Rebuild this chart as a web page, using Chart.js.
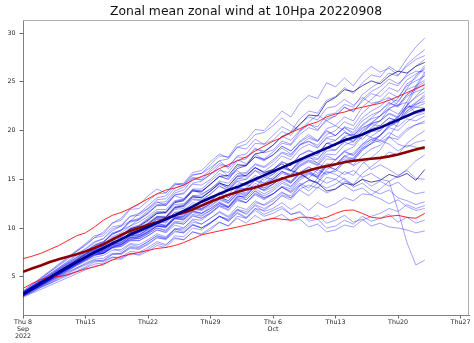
<!DOCTYPE html>
<html>
<head>
<meta charset="utf-8">
<script src="https://cdn.jsdelivr.net/npm/chart.js@4.4.1/dist/chart.umd.min.js"></script>
<style>
    html, body { margin: 0; padding: 0; background: #fff; }
    #wrap { width: 474px; height: 343px; }
</style>
</head>
<body>
<div id="wrap"><canvas id="windChart" width="474" height="343"></canvas></div>
<script>
const chartTitle = 'Zonal mean zonal wind at 10Hpa 20220908';

// forecast day offsets from 2022-09-08
const days = [0,1,2,3,4,5,6,7,8,9, 10,11,12,13,14,15,16,17,18,19, 20,21,22,23,24,25,26,27,28,29,
    30,31,32,33,34,35,36,37,38,39, 40,41,42,43,44,45];

const xTickDays = [0, 7, 14, 21, 28, 35, 42, 49];
const xTickLabels = [['Thu 8', 'Sep', '2022'], 'Thu15', 'Thu22', 'Thu29', ['Thu 6', 'Oct'], 'Thu13', 'Thu20', 'Thu27'];
const yTicks = [5, 10, 15, 20, 25, 30];

// climatology: mean and spread envelope
const climMean = [5.5,5.85,6.15,6.5,6.8,7.05,7.3,7.6,7.95,8.35, 8.8,9.3,9.7,10.0,10.3,10.6,10.95,11.3,11.6,11.9,
    12.3,12.7,13.05,13.4,13.7,13.95,14.15,14.45,14.75,15.05, 15.35,15.6,15.9,16.15,16.35,16.55,16.75,16.9,17.0,17.1,
    17.2,17.35,17.55,17.8,18.05,18.3];
const climUpper = [6.85,7.1,7.4,7.8,8.2,8.7,9.2,9.5,10.1,10.8, 11.3,11.6,12.0,12.5,13.0,13.5,13.9,14.1,14.4,14.9,
    15.3,15.6,16.1,16.5,16.9,17.3,17.9,18.4,18.9,19.3, 19.8,20.2,20.6,20.9,21.4,21.7,21.9,22.2,22.4,22.6,
    22.8,23.1,23.5,23.9,24.3,24.7];
const climLower = [3.8,4.3,4.7,5.0,5.0,5.2,5.5,5.8,6.0,6.3, 6.7,7.1,7.3,7.5,7.7,7.9,8.0,8.2,8.5,8.9,
    9.3,9.5,9.7,9.9,10.1,10.3,10.5,10.8,11.0,10.9, 10.8,11.1,11.1,10.9,11.1,11.5,11.8,11.85,11.5,11.1,
    11.0,11.2,11.3,11.1,11.0,11.5];

// ensemble mean
const ensMean = [3.2,3.8,4.4,4.9,5.5,6.0,6.5,7.0,7.5,7.95, 8.4,8.85,9.3,9.7,10.1,10.5,10.9,11.3,11.75,12.2,
    12.7,13.1,13.5,13.9,14.2,14.6,15.0,15.4,15.8,16.2, 16.6,17.0,17.4,17.8,18.2,18.6,19.0,19.3,19.6,20.0,
    20.3,20.7,21.1,21.5,21.9,22.2];

// ensemble members (rows: days 0-7, 8-14, 15-21, 22-28, 29-35, 36-40, 41-45)
const m01 = [3.3,3.9,4.5,5.1,5.8,6.4,7.0,7.6, 8.2,8.6,9.3,9.8,10.2,10.9,11.5, 12.3,12.4,13.4,13.6,14.6,14.8,15.5,
    16.4,16.3,17.4,17.6,18.7,18.6,19.5, 20.4,19.9,21.2,22.0,21.8,23.1,23.5, 24.4,23.8,24.9,25.7,25.5, 26.6,26.0,27.4,28.6,29.5];
const m02 = [3.4,4.0,4.7,5.3,5.9,6.5,7.2,7.8, 8.5,8.9,9.7,10.2,10.7,11.5,12.0, 12.9,13.0,14.1,14.4,15.4,15.6,16.5,
    17.4,17.3,18.6,19.0,20.1,20.0,21.0, 22.0,21.4,22.8,23.6,23.3,24.9,24.5, 25.4,24.6,25.8,26.6,26.0, 26.4,25.7,26.6,27.3,27.7];
const m03 = [3.2,3.8,4.4,5.0,5.5,6.1,6.7,7.3, 7.9,8.2,8.9,9.2,9.9,10.2,10.8, 11.5,11.6,12.6,12.8,13.8,13.7,14.5,
    15.3,15.4,16.5,16.4,17.6,17.8,18.5, 19.4,19.8,20.6,21.6,21.5,22.9,23.4, 24.2,24.0,24.6,25.1,24.8, 25.6,26.1,25.9,26.6,27.0];
const m04 = [3.1,3.7,4.3,4.9,5.6,6.2,6.8,7.4, 8.1,8.5,9.4,9.8,10.7,11.0,11.8, 12.6,12.7,13.8,14.2,15.1,15.2,16.0,
    16.9,17.1,18.3,18.6,19.6,19.8,20.5, 21.3,20.6,20.0,20.9,21.6,21.0,21.5, 22.4,22.0,23.0,23.8,23.5, 24.4,24.0,25.2,25.8,26.3];
const m05 = [3.3,3.9,4.4,5.0,5.5,6.1,6.6,7.2, 7.8,8.1,8.8,9.1,9.8,10.0,10.5, 11.2,11.2,12.2,12.4,13.3,13.4,14.0,
    14.8,14.6,15.6,15.7,16.6,16.3,17.0, 17.8,17.5,18.6,18.9,18.5,19.6,20.0, 20.9,20.5,21.8,22.6,23.0, 23.9,23.4,24.6,25.1,25.6];
const m06 = [3.0,3.6,4.1,4.7,5.2,5.8,6.3,6.9, 7.5,7.8,8.5,8.8,9.5,9.7,10.2, 10.9,10.9,11.9,12.0,12.9,12.8,13.5,
    14.3,13.9,15.0,15.4,16.2,15.8,16.5, 17.4,17.0,18.1,18.6,18.2,19.3,19.5, 20.3,19.8,21.0,21.6,22.0, 22.9,22.4,23.5,24.0,24.3];
const m07 = [3.2,3.7,4.2,4.7,5.3,5.8,6.3,6.8, 7.3,7.5,8.1,8.3,8.9,9.1,9.6, 10.2,10.1,11.0,11.2,12.0,11.9,12.5,
    13.2,12.8,13.9,14.1,14.9,14.4,15.0, 15.8,15.5,16.7,17.2,17.0,18.1,18.5, 19.3,18.9,20.0,20.7,21.0, 21.8,21.4,22.3,22.7,23.0];
const m08 = [3.3,3.8,4.4,4.9,5.5,6.0,6.6,7.1, 7.8,8.0,8.8,9.1,9.9,10.1,10.7, 11.5,11.6,12.7,12.9,14.0,14.0,14.8,
    15.6,15.2,16.3,16.5,17.3,16.9,17.5, 18.4,17.9,18.9,19.6,19.0,20.0,19.5, 20.3,19.6,19.1,19.9,20.0, 20.9,20.4,21.2,21.0,21.5];
const m09 = [3.1,3.6,4.1,4.6,5.2,5.7,6.2,6.7, 7.2,7.4,8.0,8.3,8.8,9.0,9.5, 10.2,10.2,11.1,11.3,12.2,12.0,12.8,
    13.6,13.1,14.0,14.5,14.1,15.2,15.0, 15.8,15.4,16.4,16.9,16.5,17.6,17.5, 18.5,18.9,19.6,20.7,21.5, 22.6,23.3,24.8,25.4,26.5];
const m10 = [3.2,3.7,4.3,4.8,5.4,5.9,6.5,7.0, 7.6,7.8,8.5,8.7,9.4,9.5,10.0, 10.7,10.6,11.6,11.8,12.6,12.4,13.0,
    13.7,13.4,14.5,14.6,15.4,14.9,15.5, 16.3,15.8,16.8,17.4,16.6,16.2,17.0, 17.9,17.4,18.4,19.1,18.8, 19.4,18.6,18.3,18.8,19.0];
const m11 = [3.4,4.0,4.6,5.2,5.7,6.3,6.9,7.5, 8.2,8.5,9.4,9.7,10.6,10.8,11.5, 12.3,12.3,13.4,13.5,14.5,14.4,15.0,
    15.9,15.7,16.9,17.1,18.1,17.9,18.5, 19.4,19.0,20.0,20.7,20.1,21.0,20.5, 20.0,19.2,19.7,19.3,19.0, 18.6,17.9,18.5,18.3,18.0];
const m12 = [3.2,3.7,4.3,4.8,5.3,5.8,6.4,6.9, 7.4,7.6,8.3,8.5,9.2,9.3,9.8, 10.4,10.2,11.1,11.0,11.8,11.5,12.0,
    12.7,12.2,13.3,13.1,14.0,13.5,14.0, 14.8,14.3,15.2,15.7,15.2,16.3,16.0, 16.9,17.2,18.2,18.6,19.5, 20.5,20.9,22.0,22.6,23.3];
const m13 = [3.1,3.6,4.2,4.7,5.3,5.8,6.4,6.9, 7.5,7.8,8.5,8.8,9.5,9.8,10.4, 11.1,11.1,12.1,12.3,13.2,13.1,13.8,
    14.6,14.3,15.3,15.4,16.2,15.7,16.0, 16.6,15.9,15.6,15.0,14.6,13.8,14.0, 14.6,14.4,15.0,14.7,14.9, 15.5,15.2,15.6,14.9,16.0];
const m14 = [3.3,3.8,4.4,4.9,5.4,5.9,6.5,7.0, 7.5,7.7,8.3,8.5,9.1,9.2,9.7, 10.3,10.1,11.0,10.9,11.7,11.5,12.0,
    12.6,12.1,13.0,12.6,13.4,12.9,13.5, 14.3,14.0,15.1,15.6,15.3,16.4,16.5, 17.1,16.4,16.9,16.0,16.5, 16.0,15.4,15.9,15.1,15.0];
const m15 = [3.2,3.7,4.2,4.7,5.3,5.8,6.3,6.8, 7.3,7.4,8.0,8.1,8.7,8.7,9.2, 9.8,9.6,10.5,10.4,11.2,11.0,11.5,
    12.2,11.8,12.8,12.6,13.5,13.1,13.5, 14.2,13.6,14.4,13.8,14.6,14.1,14.5, 15.1,14.4,15.0,14.3,14.8, 14.3,14.7,13.9,13.5,13.7];
const m16 = [3.0,3.5,4.1,4.6,5.1,5.6,6.2,6.7, 7.2,7.4,8.0,8.2,8.8,8.9,9.4, 10.0,9.8,10.7,10.6,11.4,11.2,11.8,
    12.5,12.2,13.2,13.3,14.2,13.9,14.5, 15.2,14.6,15.5,15.9,15.1,15.8,15.5, 15.0,14.2,14.6,13.9,13.5, 13.9,13.1,12.8,12.4,12.7];
const m17 = [3.3,3.8,4.4,4.9,5.4,5.9,6.5,7.0, 7.5,7.4,7.9,7.6,8.3,8.1,8.6, 9.2,8.9,9.7,9.5,10.3,10.0,10.5,
    11.2,10.8,11.8,11.5,12.4,12.0,12.5, 13.3,12.9,14.0,14.4,14.1,15.2,15.0, 14.4,13.8,14.1,13.4,13.0, 12.5,12.9,12.2,11.8,12.0];
const m18 = [3.2,3.7,4.2,4.7,5.1,5.6,6.1,6.6, 7.0,7.2,7.7,7.8,8.4,8.3,8.8, 9.4,9.1,9.9,9.6,10.4,10.0,10.6,
    11.2,10.7,11.5,11.0,11.8,11.2,11.5, 12.0,11.4,11.7,10.9,11.3,10.5,10.8, 11.3,10.6,10.9,10.2,10.5, 10.1,10.0,9.8,9.5,9.7];
const m19 = [3.1,3.6,4.1,4.6,5.2,5.7,6.2,6.7, 7.2,7.4,8.1,8.3,9.0,9.1,9.6, 10.2,10.1,11.0,11.1,11.9,11.8,12.3,
    13.0,12.6,13.6,13.5,14.3,13.9,14.5, 15.2,14.8,15.7,16.3,15.6,16.4,16.0, 15.5,15.9,15.2,15.6,15.0, 14.8,11.8,8.5,6.2,6.7];
const m20 = [3.2,3.6,4.1,4.5,5.0,5.4,5.9,6.3, 6.7,6.6,7.0,6.9,7.4,7.2,7.6, 8.2,8.0,8.9,8.8,9.6,9.4,10.0,
    10.6,10.2,11.0,10.5,11.3,10.7,11.0, 11.4,10.7,10.9,10.1,10.4,9.6,9.8, 10.3,10.1,10.8,11.2,11.5, 12.0,11.7,12.4,12.0,12.3];
const m21 = [3.4,4.0,4.5,5.1,5.7,6.3,6.8,7.4, 8.0,8.4,9.1,9.5,10.2,10.6,11.2, 11.9,11.9,12.8,13.0,13.9,13.8,14.5,
    15.3,15.0,16.1,16.4,17.3,17.1,17.8, 18.7,18.5,19.6,20.3,20.0,21.2,21.5, 22.4,21.9,23.2,24.0,24.5, 25.3,24.8,25.6,26.1,26.0];
const m22 = [3.2,3.8,4.3,4.9,5.4,6.0,6.5,7.1, 7.7,8.0,8.7,9.0,9.7,9.9,10.5, 11.2,11.1,12.1,12.2,13.0,12.9,13.5,
    14.3,13.8,14.8,15.0,15.9,15.2,15.5, 16.3,15.9,16.9,17.5,17.1,18.2,18.0, 18.9,19.2,20.2,20.8,21.5, 22.3,22.6,23.7,24.2,24.8];
const m23 = [3.1,3.7,4.2,4.8,5.3,5.9,6.4,7.0, 7.6,7.8,8.5,8.7,9.4,9.5,10.0, 10.7,10.5,11.4,11.4,12.2,12.0,12.5,
    13.2,12.6,13.5,12.9,13.8,13.1,13.5, 14.2,13.8,14.9,15.5,15.2,16.4,16.5, 17.4,17.1,18.2,18.9,19.5, 20.4,20.9,22.0,22.8,23.7];
const m24 = [3.3,3.8,4.4,4.9,5.5,6.0,6.6,7.1, 7.7,7.9,8.6,8.8,9.5,9.6,10.2, 10.9,11.0,12.0,12.2,13.2,13.1,13.8,
    14.5,14.1,15.1,15.0,15.9,15.5,16.0, 16.8,16.4,17.5,18.0,17.6,18.7,18.5, 19.3,18.8,19.9,20.6,20.5, 21.3,20.9,21.8,22.4,22.3];
const m25 = [3.2,3.7,4.3,4.8,5.4,5.9,6.5,7.0, 7.6,7.7,8.4,8.6,9.3,9.3,9.9, 10.5,10.2,11.0,10.8,11.6,11.3,11.8,
    12.5,12.1,13.1,12.9,13.8,13.3,13.8, 14.6,14.2,15.3,15.8,15.4,16.6,16.5, 17.3,16.9,18.0,18.7,19.0, 19.8,19.3,20.2,20.6,20.8];
const m26 = [3.2,3.7,4.3,4.8,5.3,5.8,6.4,6.9, 7.4,7.6,8.2,8.4,9.0,9.1,9.6, 10.2,10.0,10.9,10.9,11.7,11.5,12.2,
    12.9,12.5,13.5,13.4,14.3,13.8,14.2, 15.0,14.6,15.7,16.2,15.9,17.1,17.0, 17.9,18.3,19.4,20.3,21.0, 22.2,22.9,24.3,25.6,26.7];
const m27 = [3.3,3.9,4.4,5.0,5.6,6.2,6.7,7.3, 7.9,8.2,8.9,9.2,9.9,10.2,10.9, 11.6,11.5,12.4,12.5,13.3,13.2,13.8,
    14.6,14.3,15.4,15.6,16.5,16.2,16.8, 17.7,17.3,18.5,19.2,18.9,20.2,20.5, 21.4,21.0,22.4,23.2,24.0, 24.9,24.6,25.8,26.6,27.3];
const m28 = [3.2,3.7,4.3,4.8,5.3,5.8,6.4,6.9, 7.4,7.5,8.2,8.3,9.0,8.9,9.4, 10.0,9.7,10.6,10.4,11.3,11.0,11.6,
    12.3,11.9,12.9,12.6,13.6,13.0,13.5, 14.2,13.7,14.6,14.1,15.1,14.6,15.0, 15.8,15.4,16.6,17.2,18.0, 19.4,20.7,22.6,24.4,25.8];
const m29 = [3.1,3.6,4.2,4.7,5.3,5.8,6.4,6.9, 7.5,7.6,8.3,8.5,9.2,9.3,9.9, 10.5,10.3,11.2,11.2,12.0,11.9,12.5,
    13.2,12.8,13.8,13.6,14.6,14.1,14.5, 15.2,14.7,15.6,15.1,16.0,15.5,16.0, 16.8,16.5,17.4,18.1,18.5, 19.3,19.1,20.0,20.6,21.0];
const m30 = [3.2,3.7,4.2,4.7,5.3,5.8,6.3,6.8, 7.3,7.4,8.0,8.1,8.7,8.7,9.2, 9.8,9.5,10.3,10.0,10.8,10.4,11.0,
    11.7,11.2,12.2,11.9,12.8,12.3,12.8, 13.6,13.3,14.4,14.9,14.6,15.7,15.8, 16.7,17.0,18.0,18.7,19.5, 20.3,20.0,20.9,21.5,21.8];
const m31 = [3.3,3.8,4.4,4.9,5.5,6.0,6.6,7.1, 7.7,7.9,8.6,8.8,9.5,9.7,10.3, 11.0,10.7,11.6,11.6,12.4,12.2,12.8,
    13.5,13.1,14.1,14.0,14.9,14.6,15.2, 16.1,15.9,17.0,17.6,17.4,18.7,19.0, 19.8,19.4,20.5,21.2,21.5, 22.2,21.7,22.5,22.4,22.8];
const m32 = [3.2,3.8,4.4,5.0,5.5,6.1,6.7,7.3, 7.9,8.2,9.0,9.3,10.0,10.3,11.0, 11.7,11.7,12.7,12.9,13.9,13.8,14.5,
    15.3,15.0,16.1,16.4,17.3,17.0,17.5, 18.4,17.9,18.8,19.4,18.9,19.9,19.5, 20.4,20.1,21.3,22.0,22.5, 23.3,23.0,24.2,24.6,25.2];
const m33 = [3.1,3.6,4.0,4.5,5.0,5.5,5.9,6.4, 6.8,6.9,7.4,7.4,8.0,7.9,8.4, 9.0,8.8,9.6,9.5,10.3,10.0,10.5,
    11.2,10.7,11.6,11.1,12.0,11.4,11.8, 12.2,11.4,11.6,10.7,10.9,10.0,10.2, 10.8,10.4,11.2,10.7,11.0, 11.4,10.6,11.1,10.5,10.8];
const m34 = [3.4,4.0,4.6,5.2,5.8,6.4,7.0,7.6, 8.3,8.6,9.5,9.8,10.7,10.9,11.6, 12.4,12.5,13.6,13.9,15.0,15.0,15.8,
    16.6,16.3,17.3,17.2,18.2,17.7,18.0, 18.9,18.6,19.9,20.6,20.4,21.6,21.8, 22.7,22.4,23.7,24.4,25.0, 25.9,25.6,26.8,27.6,28.3];
const m35 = [3.5,4.2,4.9,5.6,6.3,7.0,7.7,8.4, 9.2,9.4,10.5,10.8,11.9,12.0,12.8, 13.5,13.6,14.6,14.5,15.5,15.6,16.2,
    16.9,16.1,17.0,16.6,17.6,17.0,17.5, 18.2,17.6,18.5,18.9,18.3,19.2,19.0, 19.8,19.5,20.3,20.7,21.0, 21.7,21.3,22.6,23.4,24.0];
const m36 = [3.4,4.1,4.8,5.5,6.2,6.9,7.6,8.2, 9.0,9.6,10.5,11.0,12.0,12.4,13.3, 14.0,13.6,14.5,14.4,15.2,14.9,15.5,
    16.1,15.3,15.9,15.2,16.2,15.6,16.0, 16.8,16.4,17.5,17.9,17.6,18.7,18.5, 19.4,19.6,20.6,21.3,22.0, 22.8,22.5,23.7,24.4,25.0];
const m37 = [3.3,4.0,4.6,5.3,5.9,6.6,7.3,7.9, 8.6,8.9,9.9,10.2,11.2,11.5,12.3, 13.1,13.3,14.4,14.6,15.7,15.9,16.8,
    17.6,17.2,18.3,18.1,19.1,18.6,19.0, 19.9,19.5,20.7,21.4,21.1,22.3,22.5, 23.2,22.6,23.4,22.8,23.0, 23.4,22.6,22.9,21.7,22.0];
const m38 = [3.0,3.4,3.9,4.3,4.7,5.1,5.5,5.9, 6.3,6.4,7.0,7.0,7.6,7.5,8.0, 8.6,8.3,9.0,8.8,9.6,9.3,9.8,
    10.6,10.2,11.2,11.0,12.0,11.8,12.5, 13.4,13.1,14.3,14.9,14.7,16.0,16.5, 17.4,17.7,18.6,19.4,20.0, 20.9,21.3,22.6,23.5,24.5];
const m39 = [2.9,3.3,3.7,4.1,4.5,4.9,5.3,5.7, 6.1,6.2,6.8,6.8,7.4,7.3,7.8, 8.4,8.2,9.2,9.1,10.0,9.8,10.5,
    11.2,10.9,11.9,11.7,12.6,12.4,13.0, 13.7,13.1,13.9,13.3,14.2,13.6,14.0, 14.8,14.5,15.6,16.3,17.0, 17.8,17.5,18.7,19.4,20.0];
const m40 = [3.0,3.4,3.9,4.3,4.8,5.2,5.6,6.0, 6.5,6.6,7.3,7.4,8.1,8.0,8.6, 9.2,9.0,9.9,9.8,10.6,10.4,11.0,
    11.6,11.1,11.9,11.4,12.3,11.7,12.0, 12.6,11.9,12.5,11.8,12.6,12.1,12.5, 13.1,12.8,13.5,13.4,14.0, 14.8,15.3,16.0,16.9,17.5];
const m41 = [3.5,4.2,4.8,5.5,6.1,6.8,7.6,8.3, 9.0,9.2,10.1,10.3,11.2,11.3,12.0, 12.7,12.3,13.3,13.0,13.9,13.5,14.0,
    14.7,14.0,14.8,14.3,15.2,14.6,15.0, 15.8,15.3,16.3,16.8,16.4,17.4,17.0, 17.8,17.5,18.6,19.1,19.5, 20.6,21.5,23.0,24.6,26.0];
const m42 = [3.1,3.5,4.0,4.4,4.9,5.3,5.8,6.2, 6.6,6.7,7.3,7.3,7.9,7.8,8.3, 9.0,8.9,9.9,10.0,10.9,10.8,11.5,
    12.3,12.1,13.2,13.3,14.3,14.1,14.8, 15.6,15.3,16.5,17.0,16.7,17.9,18.0, 18.8,18.5,19.6,20.2,20.5, 21.3,21.0,22.3,22.9,23.5];

const members = [m01, m02, m03, m04, m05, m06, m07, m08, m09, m10, m11, m12, m13, m14, m15, m16, m17,
    m18, m19, m20, m21, m22, m23, m24, m25, m26, m27, m28, m29, m30, m31, m32, m33, m34,
    m35, m36, m37, m38, m39, m40, m41, m42];
const darkMembers = [m03, m13];

const toPoints = (vals) => vals.map((v, i) => ({ x: days[i], y: v }));

const line = (vals, color, width, order) => ({
    data: toPoints(vals),
    borderColor: color,
    borderWidth: width,
    pointRadius: 0,
    tension: 0,
    fill: false,
    order: order
});

const datasets = [
    line(ensMean, '#00008b', 2.6, 0),
    line(climMean, '#8b0000', 2.6, 1),
    line(climUpper, 'rgba(255,0,0,0.85)', 1, 2),
    line(climLower, 'rgba(255,0,0,0.85)', 1, 2)
];
members.forEach(m => {
    const dark = darkMembers.includes(m);
    datasets.push(line(m, dark ? 'rgba(20,20,130,0.75)' : 'rgba(0,0,255,0.46)', dark ? 1 : 0.8, 3));
});

const tickFont = { family: 'DejaVu Sans', size: 6.3, lineHeight: 1.15 };

// title over the plot box, plus the top/right frame lines
const framePlugin = {
    id: 'frame',
    afterDraw(chart) {
        const { ctx, chartArea: a } = chart;
        ctx.save();
        ctx.strokeStyle = '#b0b0b0';
        ctx.lineWidth = 1;
        ctx.beginPath();
        ctx.moveTo(a.left, a.top + 0.5);
        ctx.lineTo(a.right - 0.5, a.top + 0.5);
        ctx.lineTo(a.right - 0.5, a.bottom);
        ctx.stroke();

        ctx.fillStyle = '#111';
        ctx.font = '12.4px "DejaVu Sans"';
        ctx.textAlign = 'center';
        ctx.textBaseline = 'alphabetic';
        ctx.fillText(chartTitle, (a.left + a.right) / 2, 14.7);
        ctx.restore();
    }
};

new Chart(document.getElementById('windChart'), {
    type: 'line',
    data: { datasets },
    plugins: [framePlugin],
    options: {
        responsive: false,
        animation: false,
        layout: { padding: { top: 20, right: 5, left: 0, bottom: 0 } },
        plugins: { legend: { display: false }, tooltip: { enabled: false }, title: { display: false } },
        scales: {
            x: {
                type: 'linear',
                min: 0,
                max: 49.95,
                afterBuildTicks: s => { s.ticks = xTickDays.map(v => ({ value: v })); },
                afterFit: s => { s.height = 28; s.paddingLeft = 0; s.paddingRight = 0; },
                ticks: { callback: (v, i) => xTickLabels[i], font: tickFont, color: '#222', padding: 0, maxRotation: 0, autoSkip: false },
                grid: { drawOnChartArea: false, drawTicks: true, tickLength: 3.5, color: '#666' },
                border: { display: true, color: '#808080', width: 1 }
            },
            y: {
                type: 'linear',
                min: 1.07,
                max: 31.35,
                afterBuildTicks: s => { s.ticks = yTicks.map(v => ({ value: v })); },
                afterFit: s => { s.width = 23; s.paddingTop = 0; s.paddingBottom = 0; },
                ticks: { font: tickFont, color: '#222', padding: 4 },
                grid: { drawOnChartArea: false, drawTicks: true, tickLength: 3.5, color: '#666' },
                border: { display: true, color: '#808080', width: 1 }
            }
        }
    }
});
</script>
</body>
</html>
